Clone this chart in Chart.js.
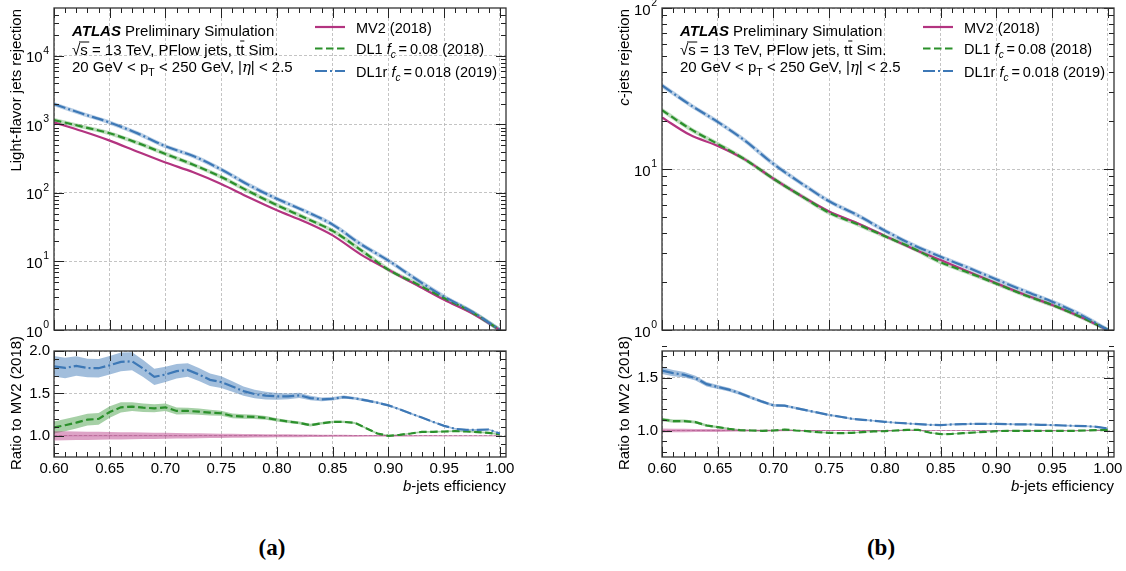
<!DOCTYPE html>
<html>
<head>
<meta charset="utf-8">
<script src="https://cdn.jsdelivr.net/npm/chart.js@4.4.1/dist/chart.umd.min.js"></script>
<style>
  body { margin: 0; background: #fff; width: 1126px; height: 571px; overflow: hidden; position: relative; }
  canvas { position: absolute; }
  .sub { position: absolute; top: 535px; width: 60px; text-align: center; font: bold 23px "Liberation Serif", serif; color: #000; }
</style>
</head>
<body>
<canvas id="mainA" width="540" height="345" style="left:0;top:0"></canvas>
<canvas id="ratioA" width="540" height="175" style="left:0;top:325px"></canvas>
<canvas id="mainB" width="518" height="345" style="left:608px;top:0"></canvas>
<canvas id="ratioB" width="518" height="175" style="left:608px;top:325px"></canvas>
<div class="sub" style="left:242px">(a)</div>
<div class="sub" style="left:851px">(b)</div>
<script>
// b-jet efficiency working points for the rejection curves
const effMain = [0.600, 0.625, 0.650, 0.675, 0.700, 0.725, 0.750, 0.775, 0.800,
                 0.825, 0.850, 0.875, 0.900, 0.925, 0.950, 0.975, 1.000];

// light-flavour jet rejection
const lightMV2  = [1070, 800, 580, 400, 278, 200, 135, 86, 56, 38, 24, 12.7, 7.55, 4.56, 2.75, 1.75, 1.0];
const lightDL1  = [1160, 930, 742, 536, 371, 258, 171, 105, 66.5, 43.5, 28, 14.8, 7.6, 4.75, 2.9, 1.82, 1.0];
const lightDL1r = [1980, 1440, 1065, 740, 480, 345, 220, 130, 82, 54.5, 34.5, 18, 10.3, 5.5, 3.07, 1.85, 1.0];

// c-jet rejection
const cMV2  = [20.9, 16.3, 13.9, 11.4, 8.7, 6.8, 5.45, 4.62, 3.84, 3.2, 2.72, 2.3, 1.95, 1.66, 1.43, 1.21, 1.0];
const cDL1  = [23.2, 17.8, 14.3, 11.4, 8.7, 6.8, 5.35, 4.55, 3.82, 3.22, 2.64, 2.27, 1.94, 1.65, 1.43, 1.21, 1.0];
const cDL1r = [33.0, 25.1, 19.6, 14.9, 10.75, 8.15, 6.3, 5.18, 4.14, 3.38, 2.85, 2.43, 2.06, 1.75, 1.50, 1.25, 1.0];

// finer efficiency grid for the ratio panels
const effRatio = [0.60, 0.61, 0.62, 0.63, 0.64, 0.65, 0.66, 0.67, 0.68, 0.69,
                  0.70, 0.71, 0.72, 0.73, 0.74, 0.75, 0.76, 0.77, 0.78, 0.79,
                  0.80, 0.81, 0.82, 0.83, 0.84, 0.85, 0.86, 0.87, 0.88, 0.89,
                  0.90, 0.91, 0.92, 0.93, 0.94, 0.95, 0.96, 0.97, 0.98, 0.99, 1.00];

const lightRatioMV2 = effRatio.map(() => 1.0);
const lightRatioDL1 = [1.098, 1.125, 1.156, 1.191, 1.199, 1.281, 1.336, 1.344, 1.332, 1.324,
                       1.336, 1.293, 1.293, 1.285, 1.273, 1.266, 1.234, 1.227, 1.223, 1.211,
                       1.188, 1.168, 1.152, 1.125, 1.148, 1.164, 1.164, 1.152, 1.090, 1.027,
                       1.000, 1.012, 1.027, 1.047, 1.047, 1.051, 1.055, 1.051, 1.043, 1.035, 1.016];
const lightRatioDL1r = [1.820, 1.800, 1.824, 1.800, 1.797, 1.832, 1.871, 1.879, 1.793, 1.695,
                        1.723, 1.762, 1.777, 1.723, 1.660, 1.633, 1.582, 1.527, 1.492, 1.473,
                        1.465, 1.465, 1.477, 1.445, 1.430, 1.437, 1.457, 1.441, 1.418, 1.391,
                        1.359, 1.313, 1.262, 1.215, 1.164, 1.117, 1.082, 1.070, 1.070, 1.074, 1.027];
// statistical half-widths of the ratio bands
const lightErrMV2 = [0.055, 0.053, 0.051, 0.049, 0.047, 0.045, 0.043, 0.041, 0.039, 0.037,
                     0.035, 0.033, 0.031, 0.029, 0.027, 0.025, 0.024, 0.022, 0.021, 0.019,
                     0.018, 0.017, 0.016, 0.015, 0.013, 0.012, 0.011, 0.010, 0.009, 0.009,
                     0.008, 0.007, 0.007, 0.006, 0.006, 0.005, 0.005, 0.005, 0.004, 0.004, 0.004];
const lightErrDL1 = [0.072, 0.072, 0.071, 0.070, 0.070, 0.068, 0.060, 0.053, 0.050, 0.047,
                     0.045, 0.042, 0.039, 0.036, 0.033, 0.030, 0.028, 0.026, 0.024, 0.022,
                     0.020, 0.018, 0.017, 0.016, 0.015, 0.014, 0.013, 0.012, 0.011, 0.011,
                     0.010, 0.010, 0.010, 0.010, 0.010, 0.010, 0.010, 0.010, 0.010, 0.010, 0.010];
const lightErrDL1r = [0.120, 0.120, 0.115, 0.110, 0.110, 0.110, 0.110, 0.105, 0.100, 0.095,
                      0.090, 0.085, 0.080, 0.078, 0.074, 0.070, 0.062, 0.055, 0.050, 0.045,
                      0.040, 0.035, 0.030, 0.026, 0.022, 0.020, 0.018, 0.016, 0.015, 0.014,
                      0.013, 0.012, 0.012, 0.011, 0.011, 0.010, 0.010, 0.010, 0.010, 0.010, 0.010];

const cRatioMV2 = effRatio.map(() => 1.0);
const cRatioDL1 = [1.104, 1.089, 1.089, 1.079, 1.047, 1.032, 1.016, 1.003, 1.000, 0.997,
                   1.000, 1.009, 1.000, 0.994, 0.984, 0.978, 0.975, 0.978, 0.984, 0.991,
                   0.994, 1.000, 1.006, 1.006, 0.981, 0.965, 0.968, 0.975, 0.981, 0.987,
                   0.994, 0.997, 0.997, 0.997, 0.997, 0.997, 0.997, 0.997, 1.000, 1.003, 1.006];
const cRatioDL1r = [1.565, 1.541, 1.525, 1.494, 1.437, 1.411, 1.386, 1.351, 1.310, 1.272,
                    1.237, 1.234, 1.212, 1.190, 1.168, 1.146, 1.130, 1.111, 1.101, 1.092,
                    1.082, 1.073, 1.066, 1.060, 1.054, 1.051, 1.057, 1.060, 1.063, 1.063,
                    1.063, 1.060, 1.057, 1.057, 1.054, 1.051, 1.047, 1.044, 1.041, 1.035, 1.019];
const cErrMV2 = [0.018, 0.017, 0.016, 0.015, 0.014, 0.013, 0.012, 0.010, 0.008, 0.007,
                 0.006, 0.006, 0.005, 0.005, 0.005, 0.004, 0.004, 0.004, 0.004, 0.004,
                 0.004, 0.004, 0.003, 0.003, 0.003, 0.003, 0.003, 0.003, 0.003, 0.003,
                 0.003, 0.003, 0.003, 0.003, 0.003, 0.003, 0.003, 0.003, 0.003, 0.003, 0.003];
const cErrDL1 = [0.016, 0.015, 0.014, 0.013, 0.012, 0.011, 0.010, 0.009, 0.008, 0.008,
                 0.008, 0.007, 0.007, 0.007, 0.007, 0.007, 0.006, 0.006, 0.006, 0.006,
                 0.006, 0.006, 0.006, 0.006, 0.006, 0.006, 0.006, 0.006, 0.006, 0.006,
                 0.006, 0.006, 0.006, 0.006, 0.006, 0.006, 0.006, 0.006, 0.006, 0.006, 0.006];
const cErrDL1r = [0.032, 0.029, 0.026, 0.023, 0.021, 0.019, 0.017, 0.016, 0.015, 0.014,
                  0.013, 0.012, 0.011, 0.011, 0.010, 0.010, 0.009, 0.009, 0.009, 0.008,
                  0.008, 0.008, 0.008, 0.008, 0.008, 0.008, 0.008, 0.008, 0.008, 0.008,
                  0.008, 0.008, 0.008, 0.008, 0.008, 0.008, 0.008, 0.008, 0.008, 0.008, 0.008];

// axis ticks
const xMajor = [0.60, 0.65, 0.70, 0.75, 0.80, 0.85, 0.90, 0.95, 1.00];
const lightDecades = [1, 10, 100, 1000, 10000];
const cDecades = [1, 10, 100];
const ratioMajorA = [1.0, 1.5, 2.0];
const ratioMajorB = [1.0, 1.5];

const colMV2 = '#b33480';
const colDL1 = '#2b902b';
const colDL1r = '#3d78b6';
const bandMV2 = 'rgba(179,52,128,0.45)';
const bandDL1 = 'rgba(43,144,43,0.42)';
const bandDL1r = 'rgba(61,120,182,0.48)';
const dashDL1 = [7.5, 3.5];
const dashDL1r = [12, 3, 2, 3];

const SANS = '"Liberation Sans", Arial, sans-serif';
const FONT = '15px ' + SANS;
const ITAL = 'italic 15px ' + SANS;
const SUB = '10.5px ' + SANS;
const LEG = '14.5px ' + SANS;
const gridColor = '#b5b5b5';
const axisColor = '#222';

function pts(xs, ys) { return xs.map((x, i) => ({ x, y: ys[i] })); }

function line(xs, ys, color, dash, order, width) {
  return { data: pts(xs, ys), borderColor: color, borderWidth: width || 2.2, borderDash: dash,
           pointRadius: 0, fill: false, tension: 0, order };
}

// band as two datasets; the upper one fills down to the lower one
function band(xs, ys, err, color) {
  const hi = ys.map((v, i) => v + err[i]);
  const lo = ys.map((v, i) => v - err[i]);
  return [
    { data: pts(xs, hi), borderWidth: 0, pointRadius: 0, fill: '+1', backgroundColor: color, order: 9 },
    { data: pts(xs, lo), borderWidth: 0, pointRadius: 0, fill: false, order: 9 }
  ];
}

function xScale(labels, h) {
  return {
    type: 'linear', min: 0.6, max: 1.0055,
    afterBuildTicks: s => { s.ticks = xMajor.map(v => ({ value: v })); },
    afterFit: s => { s.height = h; },
    grid: { color: gridColor, lineWidth: 0.8, drawTicks: false },
    border: { display: false, dash: [3, 2] },
    ticks: { display: labels, color: '#000', font: { family: SANS, size: 15 }, padding: 3,
             maxRotation: 0, autoSkip: false, callback: v => v.toFixed(2) }
  };
}

function yLog(max, majors) {
  return {
    type: 'logarithmic', min: 1, max,
    afterBuildTicks: s => { s.ticks = majors.map(v => ({ value: v })); },
    afterFit: s => { s.width = 54; },
    grid: { color: gridColor, lineWidth: 0.8, drawTicks: false },
    border: { display: false, dash: [3, 2] },
    ticks: { display: false }
  };
}

function yRatio(max, majors) {
  return {
    type: 'linear', min: 0.75, max,
    afterBuildTicks: s => { s.ticks = majors.map(v => ({ value: v })); },
    afterFit: s => { s.width = 54; },
    grid: { color: gridColor, lineWidth: 0.8, drawTicks: false },
    border: { display: false, dash: [3, 2] },
    ticks: { color: '#000', font: { family: SANS, size: 15 }, padding: 4, callback: v => v.toFixed(1) }
  };
}

// draw text made of several runs (fonts, sub/superscripts, overbars)
function runs(ctx, x, y, parts, base) {
  parts.forEach(p => {
    ctx.font = p.f || base || FONT;
    ctx.fillText(p.t, x, y + (p.dy || 0));
    const w = ctx.measureText(p.t).width;
    if (p.bar) ctx.fillRect(x + p.bar[0], y - p.bar[1], w - p.bar[0] + (p.bar[2] || 0), 1);
    x += w;
  });
  return x;
}

function runsWidth(ctx, parts) {
  let w = 0;
  parts.forEach(p => { ctx.font = p.f || FONT; w += ctx.measureText(p.t).width; });
  return w;
}

// inward ticks on all four sides plus the frame
function frame(chart, xMinor, yMinor) {
  const { ctx, chartArea: a, scales: { x, y } } = chart;
  ctx.save();
  ctx.strokeStyle = axisColor;
  ctx.lineWidth = 1;
  ctx.beginPath();
  const xt = (v, len) => {
    const p = Math.round(x.getPixelForValue(v)) + 0.5;
    ctx.moveTo(p, a.bottom); ctx.lineTo(p, a.bottom - len);
    ctx.moveTo(p, a.top); ctx.lineTo(p, a.top + len);
  };
  const yt = (v, len) => {
    const p = Math.round(y.getPixelForValue(v)) + 0.5;
    ctx.moveTo(a.left, p); ctx.lineTo(a.left + len, p);
    ctx.moveTo(a.right, p); ctx.lineTo(a.right - len, p);
  };
  xMajor.forEach(v => xt(v, 10));
  xMinor.forEach(v => xt(v, 5));
  y.ticks.forEach(t => yt(t.value, 10));
  yMinor.forEach(v => yt(v, 5));
  ctx.stroke();
  ctx.lineWidth = 1.3;
  ctx.strokeStyle = '#333';
  ctx.strokeRect(a.left, a.top, a.right - a.left, a.bottom - a.top);
  ctx.restore();
}

function logLabels(chart) {
  const { ctx, chartArea: a, scales: { y } } = chart;
  ctx.save();
  ctx.fillStyle = '#000';
  ctx.textAlign = 'right';
  ctx.textBaseline = 'alphabetic';
  y.ticks.forEach(t => {
    const p = y.getPixelForValue(t.value);
    const e = String(Math.round(Math.log10(t.value)));
    ctx.font = SUB;
    const ew = ctx.measureText(e).width;
    ctx.fillText(e, a.left - 5, p - 2);
    ctx.font = FONT;
    ctx.fillText('10', a.left - 5 - ew - 0.5, p + 6.5);
  });
  ctx.restore();
}

function yTitle(ctx, x, yRef, parts, align) {
  ctx.save();
  ctx.fillStyle = '#000';
  ctx.textAlign = 'left';
  ctx.textBaseline = 'middle';
  const w = runsWidth(ctx, parts);
  ctx.translate(x, yRef);
  ctx.rotate(-Math.PI / 2);
  runs(ctx, align === 'top' ? -w : -w / 2, 0, parts);
  ctx.restore();
}

function atlasLabel(ctx, x) {
  ctx.save();
  ctx.fillStyle = '#000';
  ctx.textAlign = 'left';
  ctx.textBaseline = 'alphabetic';
  runs(ctx, x, 36, [{ t: 'ATLAS', f: 'italic bold 15px ' + SANS }, { t: ' Preliminary Simulation' }]);
  runs(ctx, x, 54.5, [{ t: '\u221A', bar: [7, 13, 9] }, { t: 's' }, { t: ' = 13 TeV, PFlow jets, t' },
                      { t: 't', bar: [0, 14, 0] }, { t: ' Sim.' }]);
  runs(ctx, x, 72, [{ t: '20 GeV < p' }, { t: 'T', f: SUB, dy: 4 }, { t: ' < 250 GeV, |' },
                    { t: '\u03B7', f: 'italic 15px "DejaVu Serif", serif' }, { t: '| < 2.5' }]);
  ctx.restore();
}

const legendRows = [
  { color: colMV2, dash: [], y: 27, text: [{ t: 'MV2 (2018)' }] },
  { color: colDL1, dash: dashDL1, y: 48.5, text: [{ t: 'DL1 ' }, { t: 'f', f: 'italic 14.5px ' + SANS },
      { t: 'c', f: 'italic 10px ' + SANS, dy: 4 }, { t: '\u2009=\u20090.08 (2018)' }] },
  { color: colDL1r, dash: dashDL1r, y: 71, text: [{ t: 'DL1r ' }, { t: 'f', f: 'italic 14.5px ' + SANS },
      { t: 'c', f: 'italic 10px ' + SANS, dy: 4 }, { t: '\u2009=\u20090.018 (2019)' }] }
];

function legend(ctx, x) {
  ctx.save();
  legendRows.forEach(r => {
    ctx.strokeStyle = r.color;
    ctx.lineWidth = 2.2;
    ctx.setLineDash(r.dash);
    ctx.beginPath();
    ctx.moveTo(x, r.y); ctx.lineTo(x + 30, r.y);
    ctx.stroke();
    ctx.setLineDash([]);
    ctx.fillStyle = '#000';
    ctx.textAlign = 'left';
    ctx.textBaseline = 'alphabetic';
    runs(ctx, x + 41, r.y + 5.5, r.text, LEG);
  });
  ctx.restore();
}

function minorX() {
  const out = [];
  for (let i = 61; i < 100; i++) if (i % 5) out.push(i / 100);
  return out;
}
function minorLog(max) {
  const out = [];
  for (let d = 1; d < max; d *= 10) for (let m = 2; m <= 9; m++) if (d * m < max) out.push(d * m);
  return out;
}
function minorRatio(max) {
  const out = [];
  for (let i = 8; i <= Math.round(max * 10); i++) if (i % 5) out.push(i / 10);
  return out;
}

const baseOptions = (scales, padding) => ({
  responsive: false,
  animation: false,
  devicePixelRatio: 1,
  layout: { padding },
  plugins: { legend: { display: false }, tooltip: { enabled: false } },
  scales
});

function mainChart(id, mv2, dl1, dl1r, yMax, decades, padRight, titleParts) {
  new Chart(document.getElementById(id), {
    type: 'line',
    data: {
      datasets: [
        Object.assign(line(effMain, dl1r, colDL1r, dashDL1r, 1), { cubicInterpolationMode: 'monotone' }),
        Object.assign(line(effMain, dl1, colDL1, dashDL1, 2), { cubicInterpolationMode: 'monotone' }),
        Object.assign(line(effMain, mv2, colMV2, [], 3), { cubicInterpolationMode: 'monotone' }),
        // pale halo under the broken lines
        Object.assign(line(effMain, dl1r, 'rgba(61,120,182,0.35)', [], 5, 4), { cubicInterpolationMode: 'monotone' }),
        Object.assign(line(effMain, dl1, 'rgba(43,144,43,0.3)', [], 5, 4), { cubicInterpolationMode: 'monotone' })
      ]
    },
    options: baseOptions({ x: xScale(false, 0), y: yLog(yMax, decades) },
                         { top: 8, right: padRight, bottom: 15, left: 0 }),
    plugins: [{
      id: 'deco',
      afterDraw(chart) {
        const { ctx, chartArea: a } = chart;
        frame(chart, minorX(), minorLog(yMax));
        logLabels(chart);
        yTitle(ctx, 17, 9, titleParts, 'top');
        atlasLabel(ctx, a.left + 18);
        legend(ctx, a.left + 261);
      }
    }]
  });
}

function ratioChart(id, mv2, dl1, dl1r, eMV2, eDL1, eDL1r, yMax, majors, padRight) {
  new Chart(document.getElementById(id), {
    type: 'line',
    data: {
      datasets: [
        line(effRatio, dl1r, colDL1r, dashDL1r, 1),
        line(effRatio, dl1, colDL1, dashDL1, 2),
        line(effRatio, mv2, 'rgba(179,52,128,0.35)', [], 3, 1),
        ...band(effRatio, mv2, eMV2, bandMV2),
        ...band(effRatio, dl1, eDL1, bandDL1),
        ...band(effRatio, dl1r, eDL1r, bandDL1r)
      ]
    },
    options: baseOptions({ x: xScale(true, 43), y: yRatio(yMax, majors) },
                         { top: 26, right: padRight, bottom: 0, left: 0 }),
    plugins: [{
      id: 'deco',
      afterDraw(chart) {
        const { ctx, chartArea: a } = chart;
        frame(chart, minorX(), minorRatio(yMax));
        yTitle(ctx, 17, (a.top + a.bottom) / 2 - 1, [{ t: 'Ratio to MV2 (2018)' }], 'center');
        ctx.save();
        ctx.fillStyle = '#000';
        ctx.textBaseline = 'alphabetic';
        const parts = [{ t: 'b', f: ITAL }, { t: '-jets efficiency' }];
        runs(ctx, a.right - runsWidth(ctx, parts), 166, parts);
        ctx.restore();
      }
    }]
  });
}

mainChart('mainA', lightMV2, lightDL1, lightDL1r, 5e4, lightDecades, 34,
          [{ t: 'Light-flavor jets rejection' }]);
ratioChart('ratioA', lightRatioMV2, lightRatioDL1, lightRatioDL1r,
           lightErrMV2, lightErrDL1, lightErrDL1r, 2.0, ratioMajorA, 34);
mainChart('mainB', cMV2, cDL1, cDL1r, 100, cDecades, 12,
          [{ t: 'c', f: ITAL }, { t: '-jets rejection' }]);
ratioChart('ratioB', cRatioMV2, cRatioDL1, cRatioDL1r,
           cErrMV2, cErrDL1, cErrDL1r, 1.75, ratioMajorB, 12);
</script>
</body>
</html>
